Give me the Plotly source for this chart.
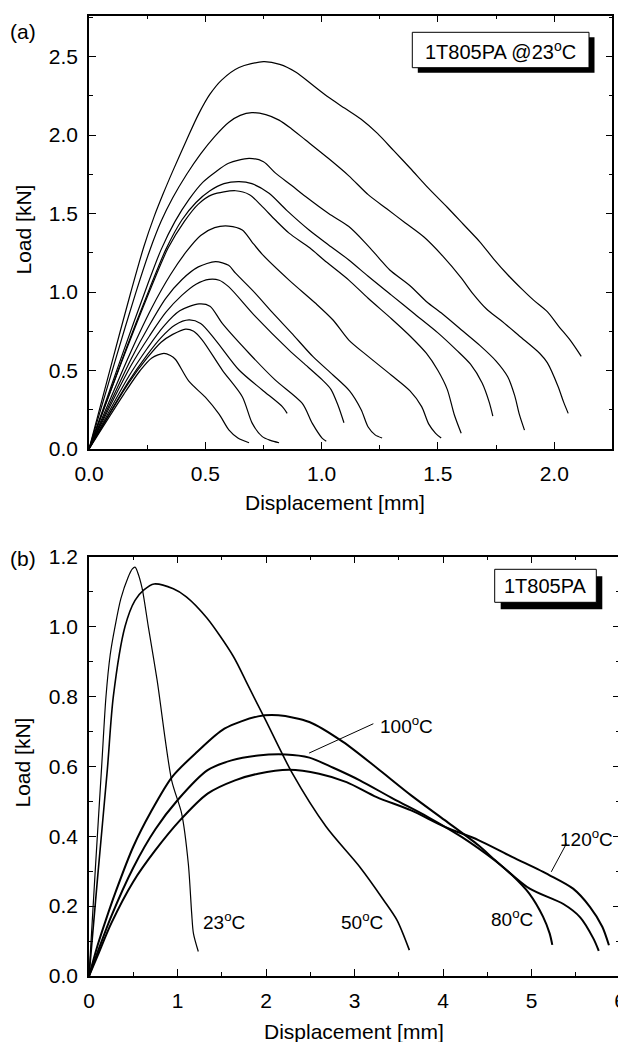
import plotly.graph_objects as go

# ---- panel (a): 1T805PA @23C, twelve specimens (displacement mm, load kN)
disp_a1 = [0, 0.1, 0.18, 0.236, 0.28, 0.32, 0.36, 0.42, 0.47, 0.52, 0.57, 0.645, 0.75, 0.82, 0.89, 0.96, 1.03,
           1.10, 1.17, 1.24, 1.31, 1.38, 1.46, 1.54, 1.61, 1.68, 1.74, 1.80, 1.86, 1.91, 1.97, 2.02, 2.07, 2.116]
load_a1 = [0, 0.56, 1.0, 1.29, 1.48, 1.63, 1.77, 1.97, 2.13, 2.26, 2.35, 2.43, 2.467, 2.45, 2.40, 2.32, 2.24,
           2.17, 2.10, 2.01, 1.90, 1.79, 1.66, 1.54, 1.43, 1.32, 1.21, 1.11, 1.02, 0.95, 0.875, 0.78, 0.69, 0.59]
disp_a2 = [0, 0.12, 0.2, 0.26, 0.31, 0.36, 0.42, 0.48, 0.54, 0.60, 0.65, 0.70, 0.76, 0.817, 0.87, 0.931, 1.03,
           1.117, 1.20, 1.28, 1.36, 1.44, 1.52, 1.60, 1.65, 1.71, 1.77, 1.85, 1.937, 1.97, 2.016, 2.04, 2.06]
load_a2 = [0, 0.60, 0.99, 1.26, 1.45, 1.60, 1.75, 1.88, 1.99, 2.08, 2.125, 2.142, 2.13, 2.095, 2.04, 1.968, 1.85,
           1.74, 1.62, 1.53, 1.44, 1.35, 1.23, 1.09, 0.99, 0.89, 0.82, 0.72, 0.61, 0.55, 0.40, 0.30, 0.227]
disp_a3 = [0, 0.15, 0.25, 0.31, 0.37, 0.43, 0.49, 0.544, 0.60, 0.688, 0.75, 0.802, 0.87, 0.931, 1.03, 1.117,
           1.19, 1.25, 1.293, 1.38, 1.45, 1.52, 1.60, 1.68, 1.75, 1.80, 1.83, 1.85, 1.872]
load_a3 = [0, 0.63, 1.04, 1.27, 1.45, 1.59, 1.70, 1.765, 1.82, 1.851, 1.83, 1.757, 1.68, 1.608, 1.50, 1.417,
           1.31, 1.21, 1.14, 1.04, 0.94, 0.86, 0.76, 0.66, 0.56, 0.46, 0.34, 0.22, 0.12]
disp_a4 = [0, 0.16, 0.26, 0.33, 0.40, 0.46, 0.52, 0.58, 0.645, 0.70, 0.774, 0.85, 0.946, 1.03, 1.117, 1.2, 1.3,
           1.4, 1.5, 1.58, 1.64, 1.69, 1.72, 1.736]
load_a4 = [0, 0.64, 1.02, 1.27, 1.46, 1.57, 1.645, 1.69, 1.703, 1.69, 1.629, 1.52, 1.395, 1.30, 1.204, 1.10, 0.98,
           0.86, 0.74, 0.63, 0.54, 0.42, 0.30, 0.21]
disp_a5 = [0, 0.16, 0.27, 0.34, 0.41, 0.47, 0.53, 0.63, 0.69, 0.745, 0.80, 0.86, 0.95, 1.01, 1.117, 1.2, 1.3,
           1.38, 1.45, 1.50, 1.54, 1.57, 1.60]
load_a5 = [0, 0.63, 1.04, 1.28, 1.45, 1.56, 1.62, 1.645, 1.62, 1.544, 1.46, 1.375, 1.28, 1.204, 1.076, 0.96, 0.83,
           0.72, 0.61, 0.50, 0.38, 0.22, 0.10]
disp_a6 = [0, 0.18, 0.27, 0.35, 0.42, 0.48, 0.54, 0.60, 0.659, 0.70, 0.745, 0.86, 0.974, 1.05, 1.117, 1.2, 1.3,
           1.38, 1.43, 1.46, 1.49, 1.514]
load_a6 = [0, 0.62, 0.90, 1.11, 1.26, 1.36, 1.41, 1.42, 1.395, 1.32, 1.24, 1.076, 0.928, 0.82, 0.694, 0.59, 0.47,
           0.37, 0.27, 0.16, 0.10, 0.07]
disp_a7 = [0, 0.18, 0.26, 0.33, 0.40, 0.47, 0.544, 0.60, 0.63, 0.716, 0.788, 0.87, 0.963, 1.05, 1.12, 1.17, 1.20,
           1.23, 1.26]
load_a7 = [0, 0.57, 0.79, 0.96, 1.08, 1.16, 1.193, 1.17, 1.12, 0.99, 0.87, 0.74, 0.588, 0.47, 0.37, 0.25, 0.14,
           0.09, 0.07]
disp_a8 = [0, 0.18, 0.26, 0.33, 0.40, 0.46, 0.516, 0.56, 0.60, 0.716, 0.86, 0.92, 1.003, 1.04, 1.07, 1.096]
load_a8 = [0, 0.53, 0.72, 0.87, 0.98, 1.05, 1.081, 1.075, 1.034, 0.843, 0.63, 0.55, 0.44, 0.38, 0.28, 0.167]
disp_a9 = [0, 0.17, 0.25, 0.32, 0.39, 0.473, 0.52, 0.573, 0.688, 0.80, 0.917, 0.96, 1.003, 1.02]
load_a9 = [0, 0.46, 0.64, 0.78, 0.88, 0.924, 0.91, 0.80, 0.61, 0.44, 0.29, 0.163, 0.068, 0.05]
disp_a10 = [0, 0.17, 0.25, 0.31, 0.37, 0.43, 0.48, 0.544, 0.645, 0.745, 0.831, 0.852]
load_a10 = [0, 0.43, 0.60, 0.71, 0.79, 0.822, 0.80, 0.694, 0.503, 0.376, 0.27, 0.227]
disp_a11 = [0, 0.17, 0.25, 0.31, 0.36, 0.415, 0.45, 0.487, 0.573, 0.659, 0.702, 0.745, 0.78, 0.817]
load_a11 = [0, 0.42, 0.58, 0.68, 0.73, 0.764, 0.75, 0.694, 0.503, 0.333, 0.163, 0.079, 0.055, 0.04]
disp_a12 = [0, 0.15, 0.22, 0.27, 0.322, 0.35, 0.372, 0.43, 0.50, 0.56, 0.602, 0.64, 0.688]
load_a12 = [0, 0.35, 0.50, 0.58, 0.609, 0.595, 0.57, 0.43, 0.33, 0.22, 0.12, 0.07, 0.04]

# ---- panel (b): 1T805PA at different temperatures
disp_23 = [0, 0.07, 0.143, 0.192, 0.24, 0.294, 0.36, 0.44, 0.49, 0.52, 0.55, 0.60, 0.67, 0.77, 0.934, 1.047, 1.122,
           1.16, 1.18, 1.235]
load_23 = [0, 0.30, 0.60, 0.80, 0.92, 1.0, 1.08, 1.14, 1.165, 1.17, 1.155, 1.11, 1.0, 0.846, 0.56, 0.465, 0.322,
           0.18, 0.122, 0.07]
disp_50 = [0, 0.1, 0.207, 0.275, 0.407, 0.52, 0.62, 0.735, 0.953, 1.10, 1.33, 1.63, 1.80, 1.99, 2.30, 2.68, 3.06,
           3.33, 3.48, 3.62]
load_50 = [0, 0.29, 0.59, 0.80, 1.0, 1.075, 1.105, 1.122, 1.108, 1.085, 1.025, 0.915, 0.83, 0.735, 0.579, 0.427,
           0.312, 0.217, 0.16, 0.074]
disp_80 = [0, 0.1, 0.19, 0.3, 0.5, 0.7, 0.94, 1.22, 1.53, 1.91, 2.14, 2.49, 2.87, 3.25, 3.64, 4.02, 4.40, 4.59,
           4.78, 4.975, 5.13, 5.205, 5.235]
load_80 = [0, 0.09, 0.16, 0.24, 0.37, 0.47, 0.57, 0.641, 0.708, 0.743, 0.746, 0.727, 0.670, 0.596, 0.517, 0.446,
           0.374, 0.331, 0.289, 0.236, 0.17, 0.122, 0.089]
disp_100 = [0, 0.1, 0.25, 0.5, 0.75, 1.0, 1.34, 1.61, 1.91, 2.22, 2.49, 2.76, 3.06, 3.44, 3.83, 4.21, 4.59, 4.98,
            5.36, 5.55, 5.70, 5.76]
load_100 = [0, 0.07, 0.17, 0.31, 0.42, 0.503, 0.589, 0.617, 0.631, 0.634, 0.625, 0.596, 0.56, 0.507, 0.455, 0.398,
            0.33, 0.25, 0.206, 0.168, 0.107, 0.072]
disp_120 = [0, 0.1, 0.25, 0.5, 0.75, 1.03, 1.34, 1.65, 1.91, 2.26, 2.60, 2.91, 3.25, 3.64, 4.02, 4.40, 4.78, 5.20,
            5.47, 5.66, 5.80, 5.875]
load_120 = [0, 0.06, 0.15, 0.27, 0.36, 0.446, 0.522, 0.56, 0.579, 0.590, 0.579, 0.555, 0.512, 0.474, 0.427, 0.389,
            0.341, 0.289, 0.250, 0.198, 0.141, 0.088]

# the page puts the plot 8px in from the top-left corner, so lay out in window pixels minus that
OFF = 8
W, H = 626 - OFF, 1042 - OFF
FONT = "Liberation Sans, Arial, sans-serif"


def px_x(X):
    return (X - OFF) / W


def px_y(Y):
    return (H - (Y - OFF)) / H


fig = go.Figure()

top_curves = [(disp_a1, load_a1), (disp_a2, load_a2), (disp_a3, load_a3), (disp_a4, load_a4),
              (disp_a5, load_a5), (disp_a6, load_a6), (disp_a7, load_a7), (disp_a8, load_a8),
              (disp_a9, load_a9), (disp_a10, load_a10), (disp_a11, load_a11), (disp_a12, load_a12)]
for xs, ys in top_curves:
    fig.add_trace(go.Scatter(x=xs, y=ys, mode="lines", xaxis="x", yaxis="y", showlegend=False,
                             line=dict(color="black", width=1.2, shape="spline", smoothing=0.8)))

bottom_curves = [(disp_23, load_23, 1.2), (disp_50, load_50, 1.6), (disp_80, load_80, 2.0),
                 (disp_100, load_100, 2.0), (disp_120, load_120, 2.0)]
for xs, ys, w in bottom_curves:
    fig.add_trace(go.Scatter(x=xs, y=ys, mode="lines", xaxis="x2", yaxis="y2", showlegend=False,
                             line=dict(color="black", width=w, shape="spline", smoothing=0.8)))


def axis(rng, dtick, minor, fmt, dom, anchor):
    return dict(range=rng, dtick=dtick, tick0=0, tickformat=fmt, domain=dom, anchor=anchor,
                automargin=False,
                showline=True, linecolor="black", linewidth=1.5, mirror="ticks",
                ticks="inside", ticklen=7, tickwidth=1.2, tickcolor="black",
                minor=dict(dtick=minor, ticks="inside", ticklen=4, tickwidth=1.2, tickcolor="black"),
                showgrid=False, zeroline=False, ticklabelstandoff=5,
                tickfont=dict(family=FONT, size=21, color="black"))


# plot areas in window pixels
a_l, a_r, a_t, a_b = 89, 612.4, 15.7, 449
b_l, b_r, b_t, b_b = 89, 620, 556.7, 976

fig.update_layout(
    width=W, height=H, margin=dict(l=0, r=0, t=0, b=0),
    paper_bgcolor="white", plot_bgcolor="white",
    font=dict(family=FONT, color="black"),
    xaxis=axis([0, 2.25], 0.5, 0.25, ".1f", [px_x(a_l), px_x(a_r)], "y"),
    yaxis=axis([0, 2.76], 0.5, 0.25, ".1f", [px_y(a_b), px_y(a_t)], "x"),
    xaxis2=axis([0, 6], 1, 0.5, "d", [px_x(b_l), px_x(b_r)], "y2"),
    yaxis2=axis([0, 1.2], 0.2, 0.1, ".1f", [px_y(b_b), px_y(b_t)], "x2"),
)


def boxed(x0, x1, y0, y1, dx, dy, text):
    # pixel box with a black drop shadow, text centred
    fig.add_shape(type="rect", xref="paper", yref="paper",
                  x0=px_x(x0 + dx), x1=px_x(x1 + dx), y0=px_y(y1 + dy), y1=px_y(y0 + dy),
                  fillcolor="black", line=dict(width=0), layer="above")
    fig.add_shape(type="rect", xref="paper", yref="paper",
                  x0=px_x(x0), x1=px_x(x1), y0=px_y(y1), y1=px_y(y0),
                  fillcolor="white", line=dict(color="black", width=1), layer="above")
    fig.add_annotation(xref="paper", yref="paper", x=px_x((x0 + x1) / 2), y=px_y((y0 + y1) / 2),
                       text=text, showarrow=False, xanchor="center", yanchor="middle",
                       font=dict(size=20, family=FONT, color="black"))


boxed(412.3, 589, 32.3, 67.7, 5.5, 5, "1T805PA @23<sup>o</sup>C")
boxed(494.7, 596.3, 569.3, 602.3, 6, 7, "1T805PA")

# temperature labels on panel (b)
temp_labels = [("23<sup>o</sup>C", 1.266, 0.158), ("50<sup>o</sup>C", 2.83, 0.158), ("80<sup>o</sup>C", 4.515, 0.166),
               ("100<sup>o</sup>C", 3.27, 0.717), ("120<sup>o</sup>C", 5.30, 0.394)]
for txt, tx, ty in temp_labels:
    fig.add_annotation(xref="x2", yref="y2", x=tx, y=ty, text=txt, showarrow=False, xanchor="left",
                       yanchor="middle", font=dict(size=19, family=FONT, color="black"))

fig.add_shape(type="line", xref="x2", yref="y2", x0=2.487, y0=0.638, x1=3.213, y1=0.722,
              line=dict(color="black", width=1))
fig.add_shape(type="line", xref="x2", yref="y2", x0=5.223, y0=0.298, x1=5.395, y1=0.379,
              line=dict(color="black", width=1))

# axis titles and panel letters (window pixels)
titles = [("Displacement [mm]", 335, 502, 0),
          ("Displacement [mm]", 354, 1031, 0),
          ("Load [kN]", 22.5, 230, -90),
          ("Load [kN]", 22.5, 763, -90),
          ("(a)", 23, 32, 0),
          ("(b)", 23, 558, 0)]
for txt, X, Y, ang in titles:
    fig.add_annotation(xref="paper", yref="paper", x=px_x(X), y=px_y(Y), text=txt, showarrow=False,
                       textangle=ang, xanchor="center", yanchor="middle",
                       font=dict(size=21, family=FONT, color="black"))

fig.write_html("out.html")
